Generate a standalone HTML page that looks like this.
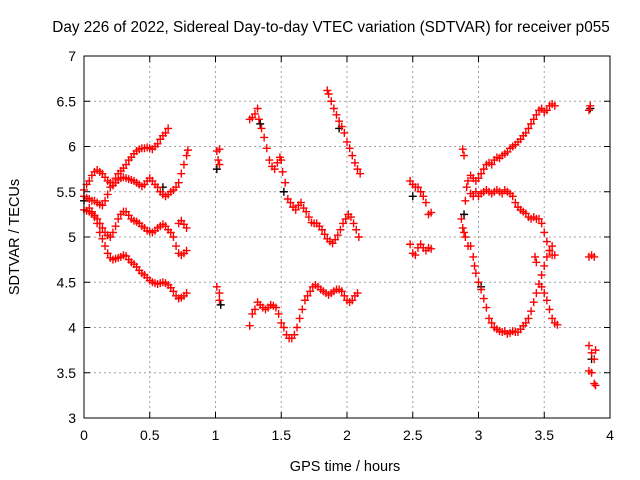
<!DOCTYPE html>
<html><head><meta charset="utf-8">
<style>
html,body{margin:0;padding:0;background:#fff;}
svg{display:block;font-family:"Liberation Sans",sans-serif;}
</style></head>
<body>
<svg id="chart" width="640" height="480" viewBox="0 0 640 480">
<text x="331" y="32" text-anchor="middle" font-size="15.3" fill="#000">Day 226 of 2022, Sidereal Day-to-day VTEC variation (SDTVAR) for receiver p055</text>
<text x="345" y="471" text-anchor="middle" font-size="14.5">GPS time / hours</text>
<text transform="translate(19,237) rotate(-90)" text-anchor="middle" font-size="14.5">SDTVAR / TECUs</text>
<g id="grid"></g>
<g id="ticks"></g>
<g id="marks"></g>
<rect x="84" y="56" width="526" height="362" fill="none" stroke="#000" stroke-width="1"/>
</svg>
<script>
const xTicks=[0,0.5,1,1.5,2,2.5,3,3.5,4];
const xTickLabels=["0","0.5","1","1.5","2","2.5","3","3.5","4"];
const yTicks=[3,3.5,4,4.5,5,5.5,6,6.5,7];
const yTickLabels=["3","3.5","4","4.5","5","5.5","6","6.5","7"];
const track1=[[0,5.45],[0.02,5.43],[0.04,5.42],[0.06,5.4],[0.08,5.4],[0.1,5.38],[0.12,5.36],[0.14,5.35],[0.16,5.4],[0.18,5.47],[0.2,5.55],[0.22,5.6],[0.24,5.65],[0.26,5.7],[0.28,5.73],[0.3,5.76],[0.32,5.8],[0.34,5.85],[0.36,5.88],[0.38,5.92],[0.4,5.95],[0.42,5.97],[0.44,5.98],[0.46,5.98],[0.48,5.99],[0.5,5.98],[0.52,5.97],[0.54,6.0],[0.56,6.03],[0.58,6.08],[0.6,6.12],[0.62,6.15],[0.64,6.2]];
const track2=[[0,5.52],[0.02,5.58],[0.04,5.62],[0.06,5.68],[0.08,5.72],[0.1,5.74],[0.12,5.72],[0.14,5.7],[0.16,5.66],[0.18,5.62],[0.2,5.6],[0.22,5.57],[0.24,5.6],[0.26,5.63],[0.28,5.65],[0.3,5.66],[0.32,5.65],[0.34,5.64],[0.36,5.63],[0.38,5.62],[0.4,5.6],[0.42,5.58],[0.44,5.56],[0.46,5.58],[0.48,5.62],[0.5,5.65],[0.52,5.62],[0.54,5.58],[0.56,5.55],[0.58,5.5],[0.6,5.47],[0.62,5.45],[0.64,5.47],[0.66,5.5],[0.68,5.52],[0.7,5.55],[0.72,5.6],[0.74,5.7],[0.76,5.8],[0.78,5.9],[0.79,5.96]];
const track3=[[0,5.3],[0.02,5.29],[0.04,5.28],[0.06,5.26],[0.08,5.24],[0.1,5.2],[0.12,5.15],[0.14,5.1],[0.16,5.05],[0.18,5.02],[0.2,5.0],[0.22,5.05],[0.24,5.12],[0.26,5.2],[0.28,5.25],[0.3,5.28],[0.32,5.28],[0.34,5.24],[0.36,5.2],[0.38,5.18],[0.4,5.17],[0.42,5.15],[0.44,5.12],[0.46,5.1],[0.48,5.07],[0.5,5.06],[0.52,5.05],[0.54,5.07],[0.56,5.1],[0.58,5.12],[0.6,5.14],[0.62,5.12],[0.64,5.08],[0.66,5.05],[0.68,5.0],[0.7,4.9],[0.72,4.82],[0.74,4.8],[0.76,4.82],[0.78,4.85],[0.72,5.15],[0.74,5.18],[0.76,5.14],[0.78,5.1]];
const track4=[[0.04,5.32],[0.06,5.28],[0.08,5.22],[0.1,5.15],[0.12,5.05],[0.14,4.98],[0.16,4.9],[0.18,4.82],[0.2,4.77],[0.22,4.75],[0.24,4.76],[0.26,4.77],[0.28,4.78],[0.3,4.8],[0.32,4.79],[0.34,4.75],[0.36,4.72],[0.38,4.7],[0.4,4.67],[0.42,4.63],[0.44,4.6],[0.46,4.58],[0.48,4.55],[0.5,4.52],[0.52,4.5],[0.54,4.49],[0.56,4.48],[0.58,4.49],[0.6,4.5],[0.62,4.49],[0.64,4.47],[0.66,4.44],[0.68,4.4],[0.7,4.35],[0.72,4.32],[0.74,4.33],[0.76,4.35],[0.78,4.38]];
const track5=[[1.01,5.95],[1.03,5.97],[1.02,5.85],[1.03,5.8],[1.01,4.45],[1.03,4.38],[1.03,4.3]];
const track6=[[1.26,6.3],[1.28,6.32],[1.3,6.36],[1.32,6.42],[1.33,6.3],[1.35,6.2],[1.37,6.1],[1.39,5.98],[1.41,5.85],[1.43,5.78],[1.45,5.75],[1.47,5.82],[1.49,5.88],[1.5,5.85],[1.51,5.72],[1.53,5.6],[1.55,5.42],[1.57,5.38],[1.59,5.33],[1.61,5.3],[1.63,5.35],[1.65,5.38],[1.67,5.32],[1.69,5.28],[1.71,5.22],[1.73,5.16],[1.75,5.15],[1.77,5.15],[1.79,5.12],[1.81,5.08],[1.83,5.03],[1.85,4.98],[1.87,4.95],[1.89,4.93],[1.91,4.97],[1.93,5.02],[1.95,5.08],[1.97,5.15],[1.99,5.2],[2.01,5.25],[2.03,5.22],[2.05,5.15],[2.07,5.08],[2.09,5.0]];
const track7=[[1.26,4.02],[1.28,4.15],[1.3,4.2],[1.32,4.28],[1.34,4.25],[1.36,4.22],[1.38,4.2],[1.4,4.22],[1.42,4.25],[1.44,4.24],[1.46,4.22],[1.48,4.15],[1.5,4.05],[1.52,4.0],[1.54,3.92],[1.56,3.88],[1.58,3.88],[1.6,3.92],[1.62,4.0],[1.64,4.1],[1.66,4.2],[1.68,4.3],[1.7,4.35],[1.72,4.4],[1.74,4.45],[1.76,4.47],[1.78,4.45],[1.8,4.42],[1.82,4.4],[1.84,4.38],[1.86,4.36],[1.88,4.38],[1.9,4.4],[1.92,4.42],[1.94,4.42],[1.96,4.4],[1.98,4.35],[2.0,4.3],[2.02,4.28],[2.04,4.3],[2.06,4.35],[2.08,4.38]];
const track8=[[1.85,6.62],[1.86,6.58],[1.88,6.5],[1.9,6.42],[1.92,6.35],[1.94,6.28],[1.96,6.22],[1.98,6.15],[2.0,6.05],[2.02,5.98],[2.04,5.9],[2.06,5.82],[2.08,5.75],[2.1,5.7]];
const track9=[[2.48,5.62],[2.5,5.58],[2.52,5.55],[2.54,5.55],[2.56,5.5],[2.58,5.45],[2.6,5.38],[2.62,5.25],[2.64,5.27],[2.48,4.92],[2.5,4.82],[2.52,4.8],[2.54,4.88],[2.56,4.92],[2.58,4.88],[2.6,4.85],[2.62,4.88],[2.64,4.87]];
const track10=[[2.88,5.97],[2.89,5.9],[2.9,5.4],[2.91,5.55],[2.92,5.62],[2.94,5.68],[2.96,5.65],[2.98,5.62],[3.0,5.65],[3.02,5.7],[3.04,5.75],[3.06,5.8],[3.08,5.82],[3.1,5.8],[3.12,5.85],[3.14,5.88],[3.16,5.87],[3.18,5.9],[3.2,5.92],[3.22,5.94],[3.24,5.98],[3.26,6.0],[3.28,6.02],[3.3,6.05],[3.32,6.08],[3.34,6.12],[3.36,6.15],[3.38,6.2],[3.4,6.25],[3.42,6.3],[3.44,6.35],[3.46,6.4],[3.48,6.42],[3.5,6.38],[3.52,6.4],[3.54,6.45],[3.56,6.47],[3.58,6.45]];
const track11=[[2.94,5.48],[2.96,5.45],[2.98,5.5],[3.0,5.45],[3.02,5.48],[3.04,5.5],[3.06,5.52],[3.08,5.5],[3.1,5.48],[3.12,5.5],[3.14,5.52],[3.16,5.5],[3.18,5.48],[3.2,5.52],[3.22,5.5],[3.24,5.48],[3.26,5.45],[3.28,5.38],[3.3,5.33],[3.32,5.3],[3.34,5.28],[3.36,5.26],[3.38,5.22],[3.4,5.2],[3.42,5.22],[3.44,5.2],[3.46,5.2],[3.48,5.15],[3.5,5.05],[3.52,4.95],[3.54,4.85],[3.56,4.8],[3.58,4.8]];
const track12=[[2.87,5.2],[2.88,5.1],[2.89,5.05],[2.9,5.0],[2.92,4.9],[2.94,4.9],[2.96,4.78],[2.97,4.68],[2.98,4.6],[3.0,4.5],[3.02,4.42],[3.04,4.32],[3.06,4.22],[3.08,4.1],[3.1,4.05],[3.12,4.0],[3.14,3.98],[3.16,3.96],[3.18,3.95],[3.2,3.96],[3.22,3.93],[3.24,3.94],[3.26,3.96],[3.28,3.95],[3.3,3.95],[3.32,3.98],[3.34,4.02],[3.36,4.05],[3.38,4.1],[3.4,4.18],[3.42,4.28],[3.44,4.38],[3.46,4.48],[3.48,4.58],[3.5,4.68],[3.52,4.78],[3.54,4.85],[3.56,4.9]];
const track13=[[3.43,4.78],[3.44,4.72],[3.48,4.45],[3.5,4.38],[3.52,4.3],[3.54,4.2],[3.56,4.1],[3.58,4.05],[3.6,4.03]];
const track14=[[3.84,6.4],[3.85,6.45],[3.84,4.78],[3.86,4.8],[3.88,4.78],[3.84,3.8],[3.86,3.72],[3.88,3.65],[3.89,3.75],[3.84,3.52],[3.86,3.5],[3.88,3.38],[3.89,3.36]];
const blackPts=[[0,5.4],[0.6,5.55],[1.01,5.75],[1.04,4.25],[1.34,6.25],[1.52,5.5],[1.94,6.2],[2.5,5.45],[2.89,5.25],[3.02,4.45],[3.85,6.42],[3.86,3.65]];
const series=[track1,track2,track3,track4,track5,track6,track7,track8,track9,track10,track11,track12,track13,track14];

const X0=84,X1=610,Y0=418,Y1=56;
const sx=v=>X0+(v-0)/(4-0)*(X1-X0);
const sy=v=>Y0-(v-3)/(7-3)*(Y0-Y1);
const NS="http://www.w3.org/2000/svg";
function mk(tag,attrs,parent){const e=document.createElementNS(NS,tag);for(const k in attrs)e.setAttribute(k,attrs[k]);parent.appendChild(e);return e;}
const grid=document.getElementById('grid'),ticks=document.getElementById('ticks'),marks=document.getElementById('marks');
xTicks.forEach((t,i)=>{
  const x=sx(t);
  if(i>0&&i<xTicks.length-1){const g=mk('line',{x1:x,x2:x,y1:Y1,y2:Y0,stroke:'#a0a0a0','stroke-dasharray':'2,3'},grid);
  
  }
  mk('line',{x1:x,x2:x,y1:Y0,y2:Y0-6,stroke:'#000'},ticks);
  mk('line',{x1:x,x2:x,y1:Y1,y2:Y1+6,stroke:'#000'},ticks);
  const tl=mk('text',{x:x,y:Y0+22,'text-anchor':'middle','font-size':'14'},ticks);
  tl.textContent=xTickLabels[i];
  
  
});
yTicks.forEach((t,i)=>{
  const y=sy(t);
  if(i>0&&i<yTicks.length-1){const g=mk('line',{x1:X0,x2:X1,y1:y,y2:y,stroke:'#a0a0a0','stroke-dasharray':'2,3'},grid);
  
  }
  mk('line',{x1:X0,x2:X0+6,y1:y,y2:y,stroke:'#000'},ticks);
  mk('line',{x1:X1,x2:X1-6,y1:y,y2:y,stroke:'#000'},ticks);
  const tl=mk('text',{x:X0-8,y:y+5,'text-anchor':'end','font-size':'14'},ticks);
  tl.textContent=yTickLabels[i];
  
  
});
function plus(p,color,name){
  const x=sx(p[0]),y=sy(p[1]);
  const m=mk('path',{d:`M${x-4},${y}H${x+4}M${x},${y-4}V${y+4}`,stroke:color,'stroke-width':'1.4',fill:'none'},marks);
  
  
}
blackPts.forEach(p=>plus(p,'#000','sdtvar-point-ref'));
series.forEach(s=>s.forEach(p=>plus(p,'#ff0000','sdtvar-point')));
</script>
</body></html>
